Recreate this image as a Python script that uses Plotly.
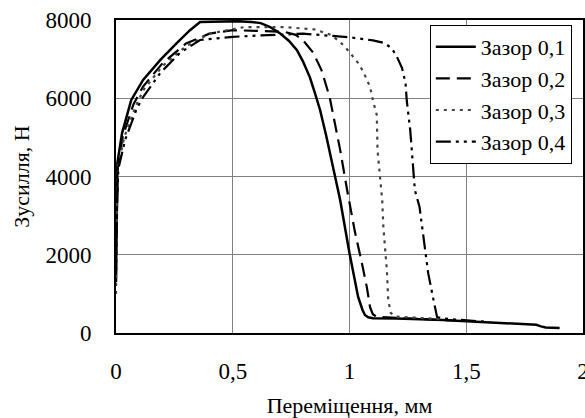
import plotly.graph_objects as go

# Displacement (mm) and force (N) for each clearance
x1 = [0.0, 0.003, 0.006, 0.026, 0.065, 0.116, 0.19, 0.26, 0.317, 0.36, 0.45, 0.52, 0.58, 0.62, 0.66, 0.70, 0.74, 0.775, 0.80, 0.83, 0.85, 0.874, 0.90, 0.92, 0.96, 1.0, 1.037, 1.055, 1.066, 1.08, 1.1, 1.2, 1.3, 1.4, 1.5, 1.6, 1.7, 1.8, 1.82, 1.84, 1.9]
y1 = [1300, 3500, 4350, 5110, 5950, 6470, 6980, 7410, 7740, 7950, 7960, 7970, 7950, 7920, 7820, 7670, 7470, 7230, 6950, 6540, 6170, 5700, 5050, 4500, 3400, 2040, 920, 600, 460, 400, 380, 370, 355, 330, 300, 270, 240, 210, 170, 140, 130]

x2 = [0.0, 0.004, 0.008, 0.03, 0.075, 0.116, 0.2, 0.3, 0.4, 0.5, 0.6, 0.72, 0.77, 0.8, 0.845, 0.88, 0.915, 0.96, 0.99, 1.024, 1.05, 1.074, 1.088, 1.10, 1.117, 1.2, 1.3, 1.45]
y2 = [2000, 3600, 4300, 5050, 5850, 6300, 6900, 7400, 7650, 7740, 7730, 7700, 7620, 7490, 7160, 6720, 6030, 4680, 3650, 2560, 1870, 1180, 660, 480, 410, 390, 360, 320]

x3 = [0.0, 0.004, 0.009, 0.035, 0.085, 0.116, 0.2, 0.3, 0.4, 0.55, 0.72, 0.85, 0.92, 0.96, 1.0, 1.037, 1.06, 1.088, 1.10, 1.117, 1.12, 1.14, 1.145, 1.16, 1.166, 1.177, 1.2, 1.3, 1.4]
y3 = [1000, 3400, 4250, 5000, 5800, 6200, 6830, 7330, 7650, 7820, 7820, 7760, 7620, 7440, 7180, 6900, 6670, 6290, 5950, 5570, 4680, 3400, 2710, 1610, 840, 510, 420, 380, 350]

x4 = [0.0, 0.004, 0.01, 0.04, 0.09, 0.116, 0.19, 0.274, 0.36, 0.5, 0.6, 0.8, 1.0, 1.1, 1.15, 1.18, 1.2, 1.225, 1.24, 1.245, 1.26, 1.27, 1.28, 1.30, 1.32, 1.337, 1.36, 1.375, 1.4, 1.5, 1.6]
y4 = [1500, 3200, 4200, 4950, 5750, 6030, 6650, 7160, 7490, 7570, 7600, 7650, 7560, 7480, 7410, 7280, 7100, 6770, 6390, 5950, 5190, 4420, 3650, 3220, 2380, 1530, 840, 410, 370, 320, 280]

names = ["Зазор 0,1", "Зазор 0,2", "Зазор 0,3", "Зазор 0,4"]
x_tick_vals = [0, 0.5, 1, 1.5, 2]
x_tick_text = ["0", "0,5", "1", "1,5", "2"]
y_tick_vals = [0, 2000, 4000, 6000, 8000]
y_tick_text = ["0", "2000", "4000", "6000", "8000"]

FONT = "Liberation Serif, Liberation Sans, sans-serif"

styles = [
    dict(color="black", width=2.5, dash="solid"),
    dict(color="black", width=2.2, dash="14px,7px"),
    dict(color="#444444", width=2.2, dash="3px,5px"),
    dict(color="black", width=2.2, dash="15px,5px,3px,5px,3px,5px"),
]

fig = go.Figure()
for xs, ys, nm, st in zip([x1, x2, x3, x4], [y1, y2, y3, y4], names, styles):
    fig.add_trace(go.Scatter(x=xs, y=ys, mode="lines", name=nm, line=st))

fig.update_layout(
    template="none",
    width=585, height=418,
    margin=dict(l=116, r=2, t=20, b=85, autoexpand=False),
    paper_bgcolor="white", plot_bgcolor="white",
    font=dict(family=FONT, size=22, color="black"),
    showlegend=True,
    legend=dict(
        x=0.672, y=0.984, xanchor="left", yanchor="top",
        bgcolor="white", bordercolor="black", borderwidth=1,
        font=dict(family=FONT, size=22, color="black"),
        itemwidth=40, tracegroupgap=0,
    ),
    xaxis=dict(
        range=[0, 2], tickvals=x_tick_vals, ticktext=x_tick_text,
        showgrid=True, gridcolor="#808080", gridwidth=1,
        showline=True, linecolor="black", linewidth=2, mirror=True,
        zeroline=False, ticks="", ticklabelstandoff=16, automargin=False,
        ticklabeloverflow="allow",
        tickfont=dict(family=FONT, size=23),
        title=dict(text="Переміщення, мм", standoff=24, font=dict(family=FONT, size=22)),
    ),
    yaxis=dict(
        range=[0, 8000], tickvals=y_tick_vals, ticktext=y_tick_text,
        showgrid=True, gridcolor="#808080", gridwidth=1,
        showline=True, linecolor="black", linewidth=2, mirror=True,
        zeroline=False, ticks="", ticklabelstandoff=18, automargin=False,
        tickfont=dict(family=FONT, size=23),
        title=dict(text="Зусилля, Н", standoff=10, font=dict(family=FONT, size=22)),
    ),
)

fig.write_html("out.html")
